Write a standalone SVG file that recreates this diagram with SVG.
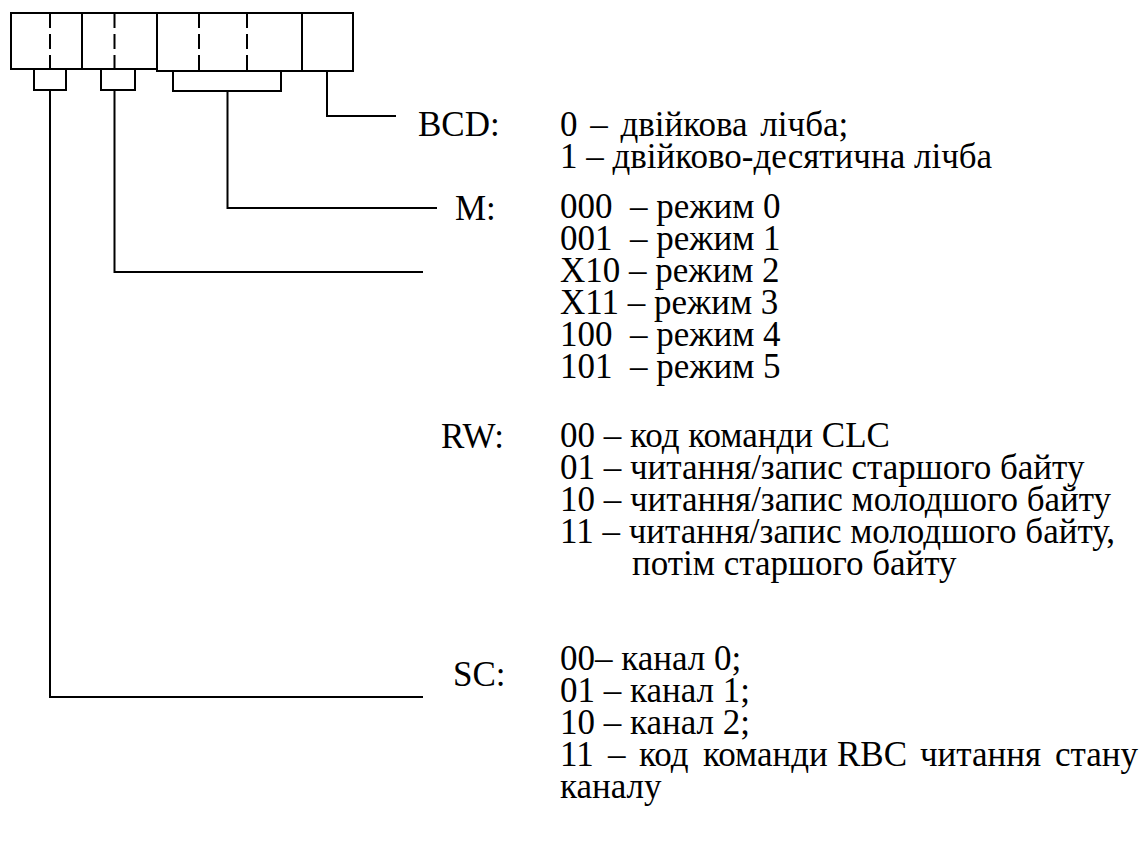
<svg xmlns="http://www.w3.org/2000/svg" width="1148" height="865" viewBox="0 0 1148 865">
<style>
.ln{fill:none;stroke:#000;stroke-width:2;stroke-linecap:square}
.ds{fill:none;stroke:#000;stroke-width:2;stroke-dasharray:15 6}
text{font-family:'Liberation Serif','Times New Roman',Times,serif;font-size:35px;fill:#000}
</style>
<rect width="1148" height="865" fill="#fff"/>
<g id="register">
<path class="ln" d="M11 13H353M11 13V69H157M157 13V71H353V13M82 13V69"/>
<path class="ln" d="M302 13V71"/>
<path class="ds" d="M50 13V69M114.5 13V69M199 13V71M247 13V71"/>
</g>
<g id="connectors">
<path class="ln" d="M34 69V90H66V69M50 90V697H422"/>
<path class="ln" d="M101 69V90H135V69M114.5 90V272H422"/>
<path class="ln" d="M173 71V91H281V71M227.5 91V208H436"/>
<path class="ln" d="M327 71V116H395"/>
</g>
<g id="bcd">
<text x="418" y="136">BCD:</text>
<text x="560" y="136" word-spacing="4">0 – двійкова лічба;</text>
<text x="560" y="168">1 – двійково-десятична лічба</text>
</g>
<g id="m">
<text x="455" y="220">M:</text>
<text x="560" y="218" xml:space="preserve">000  – режим 0</text>
<text x="560" y="250" xml:space="preserve">001  – режим 1</text>
<text x="560" y="282">X10 – режим 2</text>
<text x="560" y="314">X11 – режим 3</text>
<text x="560" y="346" xml:space="preserve">100  – режим 4</text>
<text x="560" y="378" xml:space="preserve">101  – режим 5</text>
</g>
<g id="rw">
<text x="441" y="448">RW:</text>
<text x="560" y="447">00 – код команди CLC</text>
<text x="560" y="479">01 – читання/запис старшого байту</text>
<text x="560" y="511">10 – читання/запис молодшого байту</text>
<text x="560" y="543">11 – читання/запис молодшого байту,</text>
<text x="632" y="575">потім старшого байту</text>
</g>
<g id="sc">
<text x="453" y="686">SC:</text>
<text x="560" y="670">00– канал 0;</text>
<text x="560" y="702">01 – канал 1;</text>
<text x="560" y="734">10 – канал 2;</text>
<text y="766"><tspan x="560">11</tspan><tspan x="608">–</tspan><tspan x="639">код</tspan><tspan x="703">команди</tspan><tspan x="837">RBC</tspan><tspan x="920">читання</tspan><tspan x="1055">стану</tspan></text>
<text x="560" y="798">каналу</text>
</g>
</svg>
